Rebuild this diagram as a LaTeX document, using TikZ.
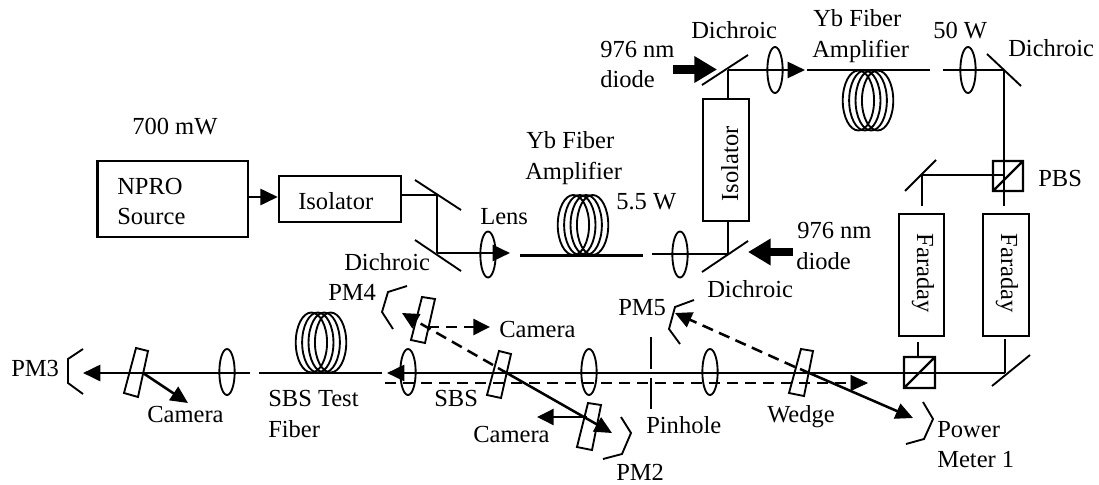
\documentclass[tikz,border=0pt]{standalone}
\usepackage{fontspec}
\setmainfont{Liberation Serif}
\usetikzlibrary{arrows.meta,shapes.geometric}
\tikzset{
  lbl/.style={anchor=base west,inner sep=0pt,font=\fontsize{18.4}{22}\selectfont},
  rotlbl/.style={anchor=base,inner sep=0pt,font=\fontsize{18.4}{22}\selectfont},
  boxnode/.style={draw,line width=1.8pt,inner sep=0pt},
  lensnode/.style={draw,ellipse,line width=1.4pt,inner sep=0pt,minimum width=11.5pt,minimum height=34.5pt},
  loopnode/.style={draw,ellipse,line width=1.4pt,inner sep=0pt,minimum width=23.5pt,minimum height=45pt},
  beam/.style={line width=1.9pt},
  thin beam/.style={line width=1.5pt},
  optic/.style={line width=1.4pt},
  dash beam/.style={line width=1.9pt,dash pattern=on 8.5pt off 5pt},
  head/.style={-{Triangle[length=13pt,width=12pt]}},
  dhead/.style={-{Triangle[length=12.5pt,width=12pt]}},
  pump/.style={line width=6.5pt,-{Triangle[length=17pt,width=19pt]}},
}
\newcommand{\fibercoil}[3]{%
  \foreach \k in {-1.5,-0.5,0.5,1.5}{\node[loopnode] (#1\k) at ({#2+\k*6.4},#3) {};}}
\begin{document}
\begin{tikzpicture}[x=0.75pt,y=-0.75pt]
\useasboundingbox (0,0) rectangle (1099,485);
% boxes
\node[boxnode,minimum width=113pt,minimum height=57pt] (npro) at (172.75,199) {};
\node[boxnode,minimum width=91.5pt,minimum height=34.5pt] (iso1) at (340,199) {};
\node[boxnode,minimum width=34.5pt,minimum height=91.5pt] (iso2) at (726,160) {};
\node[boxnode,minimum width=34pt,minimum height=91.5pt] (far1) at (921.5,275) {};
\node[boxnode,minimum width=34.5pt,minimum height=91.5pt] (far2) at (1006,275) {};
% coordinates
\coordinate (m1) at (437,195);
\coordinate (m2) at (437,253);
\coordinate (iso1out) at (401,195);
\coordinate (lens1tip) at (510,253);
\coordinate (fa1) at (520,255.5);
\coordinate (fa2) at (643,255.5);
\coordinate (fb1) at (652,254);
\coordinate (d1) at (728,254);
\coordinate (d2) at (728,70);
\coordinate (amp2tip) at (805,70);
\coordinate (fc1) at (807,70);
\coordinate (fc2) at (930,70);
\coordinate (fd1) at (943,70);
\coordinate (m3) at (1004,70);
\coordinate (pbs1c) at (1004,175);
\coordinate (v1end) at (1004,206);
\coordinate (m4) at (922,175);
\coordinate (v2end) at (922,206);
\coordinate (u1) at (918,342);
\coordinate (u1b) at (918,357);
\coordinate (u2) at (1005,339);
\coordinate (m5) at (1005,373);
\coordinate (btip) at (387,373);
\coordinate (dl) at (385,383);
\coordinate (dr) at (868,383);
\coordinate (w1) at (800,369);
\coordinate (pm1tip) at (913,418);
\coordinate (w1d) at (795,367);
\coordinate (pm5tip) at (675,313);
\coordinate (w2) at (498,368);
\coordinate (pm2tip) at (612,433);
\coordinate (w3) at (587,417);
\coordinate (cam2tip) at (537,417);
\coordinate (w2d) at (493,365);
\coordinate (pm4tip) at (402,313);
\coordinate (w4) at (428,327);
\coordinate (cam1tip) at (490,327);
\coordinate (fe1) at (259,373);
\coordinate (fe2) at (382,373);
\coordinate (ff1) at (250,373);
\coordinate (pm3tip) at (83,373);
\coordinate (w5) at (143,373);
\coordinate (cam3tip) at (188,403);
\coordinate (ph1) at (651,337);
\coordinate (ph2) at (651,369);
\coordinate (ph3) at (651,378);
\coordinate (ph4) at (651,409);
\coordinate (pu1) at (673,69.5);
\coordinate (pu2) at (717,69.5);
\coordinate (pl1) at (793,252);
\coordinate (pl2) at (748,252);
% beams and fibres
\draw[beam,head] (npro.east |- 0,197) -- (iso1.west |- 0,197);
\draw[thin beam] (iso1out) -- (m1) -- (m2);
\draw[beam,head] (m2) -- (lens1tip);
\draw[beam] (fa1) -- (fa2);
\draw[thin beam] (fb1) -- (d1);
\draw[thin beam] (d1) -- (iso2.south -| d1);
\draw[thin beam] (iso2.north -| d2) -- (d2);
\draw[beam,head] (d2) -- (amp2tip);
\draw[beam] (fc1) -- (fc2);
\draw[beam] (fd1) -- (m3);
\draw[thin beam] (m3) -- (v1end);
\draw[thin beam] (pbs1c) -- (m4) -- (v2end);
\draw[thin beam] (u1) -- (u1b);
\draw[thin beam] (u2) -- (m5);
\draw[line width=2.1pt,head] (m5) -- (btip);
\draw[dash beam] (dl) -- (854,383);
\draw[head] (854,383) -- (dr);
\draw[beam,head] (w1) -- (pm1tip);
\draw[dash beam,dhead] (w1d) -- (pm5tip);
\draw[beam,head] (w2) -- (pm2tip);
\draw[beam,dhead] (w3) -- (cam2tip);
\draw[dash beam,dhead] (w2d) -- (pm4tip);
\draw[dash beam,dhead] (w4) -- (cam1tip);
\draw[beam] (fe1) -- (fe2);
\draw[line width=2.1pt,head] (ff1) -- (pm3tip);
\draw[beam,head] (w5) -- (cam3tip);
\draw[optic] (ph1) -- (ph2) (ph3) -- (ph4);
\draw[pump] (pu1) -- (pu2);
\draw[pump] (pl1) -- (pl2);
% mirrors
\draw[optic] (415,180) -- (461,210);
\draw[optic] (415,240) -- (461,271);
\draw[optic] (702,272) -- (748,241);
\draw[optic] (702,85) -- (748,55);
\draw[optic] (987,54) -- (1021,86);
\draw[optic] (905,191) -- (936,160);
\draw[optic] (992,386) -- (1030,355);
% beam splitters
\draw[line width=1.7pt] (993,161) rectangle (1023,191) (993,191) -- (1023,161);
\draw[line width=1.7pt] (904,357) rectangle (935,388) (904,388) -- (935,357);
% lenses
\node[lensnode] (l1) at (488,254.5) {};
\node[lensnode] (l2) at (680,254.5) {};
\node[lensnode] (l3) at (775,70) {};
\node[lensnode] (l4) at (968,70) {};
\node[lensnode] (l5) at (710,372) {};
\node[lensnode] (l6) at (589,372) {};
\node[lensnode] (l7) at (408,372) {};
\node[lensnode] (l8) at (227,372) {};
% coils
\fibercoil{ca}{583}{225}
\fibercoil{cb}{868}{100.5}
\fibercoil{cc}{321}{342.5}
% wedges
\draw[optic] (801,349) -- (813,351) -- (804,396) -- (789,393) -- cycle;
\draw[optic] (499,351) -- (511,354) -- (501,398) -- (487,395) -- cycle;
\draw[optic] (588,403) -- (601,405) -- (592,450) -- (577,447) -- cycle;
\draw[optic] (422,297) -- (435,299) -- (425,343) -- (411,340) -- cycle;
\draw[optic] (136,348) -- (148,351) -- (138,397) -- (124,393) -- cycle;
% power meters
\draw[optic] (923,402) -- (933,419) -- (924,439) -- (906,444);
\draw[optic] (694,300) -- (675,307) -- (669,329) -- (680,344);
\draw[optic] (621,417) -- (631,433) -- (622,454) -- (603,459);
\draw[optic] (407,286) -- (388,292) -- (382,312) -- (393,329);
\draw[optic] (83,349) -- (68,359) -- (68,383) -- (83,394);
% labels
\node[lbl] (t1) at (132,134) {700 mW};
\node[lbl] (t2) at (117,194) {NPRO};
\node[lbl] (t3) at (117,224) {Source};
\node[lbl] (t4) at (298,209) {Isolator};
\node[lbl] (t5) at (344,270) {Dichroic};
\node[lbl] (t6) at (480,224) {Lens};
\node[lbl] (t7) at (526,148) {Yb Fiber};
\node[lbl] (t8) at (525,179) {Amplifier};
\node[lbl] (t9) at (616,209) {5.5 W};
\node[lbl] (t10) at (600,58) {976 nm};
\node[lbl] (t11) at (600,88) {diode};
\node[lbl] (t12) at (691,39) {Dichroic};
\node[lbl] (t13) at (813,27) {Yb Fiber};
\node[lbl] (t14) at (812,58) {Amplifier};
\node[lbl] (t15) at (933,39) {50 W};
\node[lbl] (t16) at (1008,57) {Dichroic};
\node[lbl] (t17) at (1038,186) {PBS};
\node[lbl] (t18) at (797,238) {976 nm};
\node[lbl] (t19) at (796,269) {diode};
\node[lbl] (t20) at (707,297) {Dichroic};
\node[lbl] (t21) at (328,300) {PM4};
\node[lbl] (t22) at (618,315) {PM5};
\node[lbl] (t23) at (499,337) {Camera};
\node[lbl] (t24) at (11,376) {PM3};
\node[lbl] (t25) at (147,422) {Camera};
\node[lbl] (t26) at (268,406) {SBS Test};
\node[lbl] (t27) at (268,437) {Fiber};
\node[lbl] (t28) at (434,406) {SBS};
\node[lbl] (t29) at (473,442) {Camera};
\node[lbl] (t30) at (646,433) {Pinhole};
\node[lbl] (t31) at (616,480) {PM2};
\node[lbl] (t32) at (767,422) {Wedge};
\node[lbl] (t33) at (937,437) {Power};
\node[lbl] (t34) at (937,467) {Meter 1};
\node[rotlbl,rotate=90] (t35) at (738,164) {Isolator};
\node[rotlbl,rotate=-90] (t36) at (917,273) {Faraday};
\node[rotlbl,rotate=-90] (t37) at (1001,273) {Faraday};
\end{tikzpicture}
\end{document}
